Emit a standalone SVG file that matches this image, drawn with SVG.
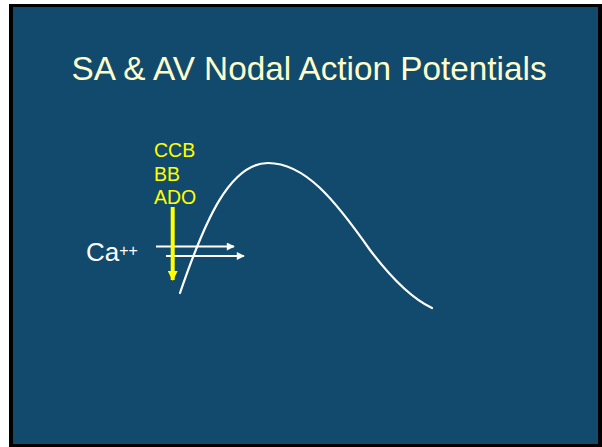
<svg xmlns="http://www.w3.org/2000/svg" width="602" height="447" viewBox="0 0 602 447">
  <defs>
    <style>
      .title { font-family: "Liberation Sans", Arial, sans-serif; font-size: 33.3px; fill: #ffffcc; }
      .drug { font-family: "Liberation Sans", Arial, sans-serif; font-size: 19.5px; fill: #ffff00; }
      .ion { font-family: "Liberation Sans", Arial, sans-serif; fill: #ffffff; }
      .flux { stroke: #ffffff; stroke-width: 2; fill: none; }
    </style>
    <marker id="whiteHead" viewBox="0 0 10 10" refX="9" refY="5" markerWidth="5" markerHeight="4" markerUnits="strokeWidth" orient="auto">
      <path d="M0,0 L10,5 L0,10 Z" fill="#ffffff"/>
    </marker>
    <marker id="yellowHead" viewBox="0 0 10 10" refX="9" refY="5" markerWidth="3" markerHeight="2.5" markerUnits="strokeWidth" orient="auto">
      <path d="M0,0 L10,5 L0,10 Z" fill="#ffff00"/>
    </marker>
  </defs>
  <rect x="0" y="0" width="602" height="447" fill="#ffffff"/>
  <rect x="9" y="4" width="593" height="443" fill="#000000"/>
  <rect x="13" y="7" width="585" height="437" fill="#124a6d"/>

  <g id="title">
    <text class="title" x="309" y="80" text-anchor="middle">SA &amp; AV Nodal Action Potentials</text>
  </g>

  <g id="action-potential">
    <path d="M180,293 C205,220 230,163 268,163 C305,163 335,200 370,250 C395,283 415,300 432,308" fill="none" stroke="#ffffff" stroke-width="2.2" stroke-linecap="round"/>
  </g>

  <g id="drug-labels">
    <text class="drug" x="154" y="157">CCB</text>
    <text class="drug" x="154" y="180.5">BB</text>
    <text class="drug" x="154" y="204">ADO</text>
  </g>

  <g id="calcium-label">
    <text class="ion" x="86" y="261" font-size="26">Ca<tspan font-size="16" dy="-5">++</tspan></text>
  </g>

  <g id="connectors">
    <line class="flux" x1="156" y1="246.5" x2="234" y2="246.5" marker-end="url(#whiteHead)"/>
    <line class="flux" x1="166" y1="256" x2="244" y2="256" marker-end="url(#whiteHead)"/>
    <line x1="172.7" y1="207" x2="172.7" y2="280" stroke="#ffff00" stroke-width="4" marker-end="url(#yellowHead)"/>
  </g>
</svg>
